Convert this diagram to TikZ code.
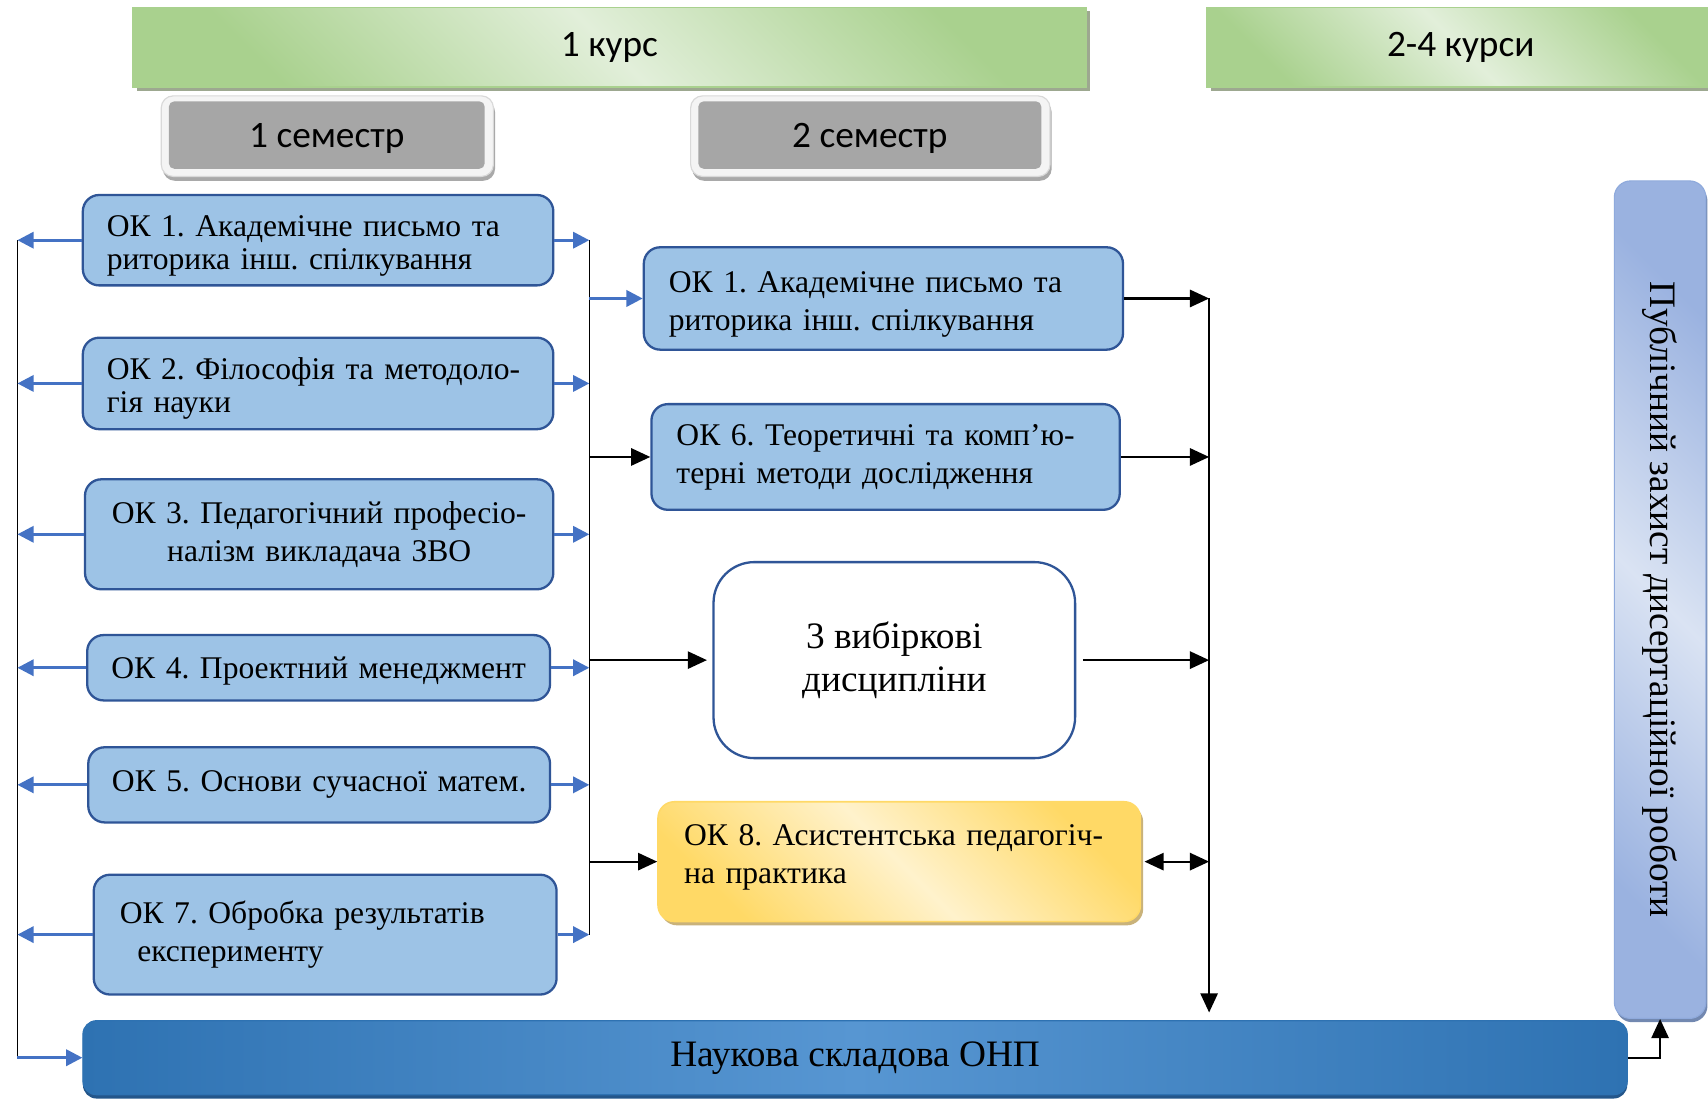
\documentclass[tikz,border=0pt]{standalone}
\usepackage{fontspec}
\setmainfont{Liberation Serif}
\newfontfamily\hdfont{Carlito}
\usetikzlibrary{arrows.meta,shadows}
\definecolor{okfill}{HTML}{9DC3E6}
\definecolor{okdraw}{HTML}{2F5597}
\definecolor{arrblue}{HTML}{4472C4}
\definecolor{gLight}{HTML}{E2EFDA}
\definecolor{gDark}{HTML}{A9D18E}
\definecolor{gShadow}{HTML}{9DA890}
\definecolor{semGray}{HTML}{A6A6A6}
\definecolor{semRim}{HTML}{F4F4F4}
\definecolor{semShadow}{HTML}{A9A9A9}
\definecolor{nBlueD}{HTML}{2E72B2}
\definecolor{nBlueL}{HTML}{5796D2}
\definecolor{nShadow}{HTML}{24568A}
\definecolor{pLight}{HTML}{DAE3F3}
\definecolor{pDark}{HTML}{9AB2E0}
\definecolor{pEdge}{HTML}{8FAADC}
\definecolor{yDark}{HTML}{FFD966}
\definecolor{yLight}{HTML}{FFF2CC}
\definecolor{yShadow}{HTML}{C9B27A}
\tikzset{
  bodytxt/.style={font=\fontsize{16.5}{19.8}\selectfont},
  tighttxt/.style={font=\fontsize{16.5}{17.2}\selectfont},
  okbox/.style={draw=okdraw, line width=1.2pt, fill=okfill, rounded corners=0.3cm, inner sep=0pt, bodytxt},
  greenbar/.style={draw=gDark, line width=0.8pt, inner sep=0pt,
    top color=gDark, bottom color=gDark, middle color=gLight, shading angle=-45,
    drop shadow={shadow xshift=0.07cm, shadow yshift=-0.07cm, fill=gShadow, opacity=1},
    font=\hdfont\fontsize{19.5}{22}\selectfont},
  semouter/.style={draw=black!15, line width=0.6pt, fill=semRim, rounded corners=0.22cm, inner sep=0pt,
    drop shadow={shadow xshift=0.03cm, shadow yshift=-0.08cm, fill=semShadow, opacity=1}},
  seminner/.style={fill=semGray, rounded corners=0.1cm, inner sep=0pt, text depth=0pt,
    font=\hdfont\fontsize{19.5}{22}\selectfont},
  vibbox/.style={draw=okdraw, line width=1.2pt, fill=white, rounded corners=0.75cm, inner sep=0pt,
    font=\fontsize{19.5}{22.8}\selectfont, align=center},
  yelbox/.style={draw=yDark, line width=0.8pt, inner sep=0pt, rounded corners=0.3cm,
    top color=yDark, bottom color=yDark, middle color=yLight, shading angle=-45,
    drop shadow={shadow xshift=0.05cm, shadow yshift=-0.07cm, fill=yShadow, opacity=1}, bodytxt},
  naukbox/.style={draw=nBlueD, line width=0.6pt, inner sep=0pt, rounded corners=0.25cm,
    left color=nBlueD, right color=nBlueD, middle color=nBlueL,
    drop shadow={shadow xshift=0cm, shadow yshift=-0.07cm, fill=nShadow, opacity=1},
    font=\fontsize{19.5}{22}\selectfont},
  pubbox/.style={draw=pEdge, line width=0.6pt, inner sep=0pt, rounded corners=0.3cm,
    top color=pDark, bottom color=pDark, middle color=pLight, shading angle=-45,
    drop shadow={shadow xshift=0.03cm, shadow yshift=-0.07cm, fill=pEdge!80!black, opacity=1}},
  pubtxt/.style={rotate=-90, font=\fontsize{19.5}{22}\selectfont, inner sep=0pt},
  blarrow/.style={draw=arrblue, line width=1.5pt, -{Triangle[length=8.5pt,width=8.5pt]}},
  barrow/.style={draw=black, line width=1.1pt, -{Triangle[length=10pt,width=9pt]}},
  dbarrow/.style={draw=black, line width=1.1pt, {Triangle[length=10pt,width=9pt]}-{Triangle[length=10pt,width=9pt]}},
  bline/.style={draw=black, line width=0.8pt},
}
\begin{document}
\frenchspacing
\begin{tikzpicture}[x=0.02cm, y=-0.02cm]
\useasboundingbox (0,0) rectangle (1568,1008);
\fill[white] (0,0) rectangle (1568,1008);

% headers
\node[greenbar, minimum width=17.5cm, minimum height=1.46cm] (y1) at (559.5,43.5) {1 курс};
\node[greenbar, minimum width=9.32cm, minimum height=1.46cm] (y24) at (1341,43.5) {2-4 курси};
\node[semouter, minimum width=6.1cm, minimum height=1.48cm] (s1o) at (300.5,125) {};
\node[seminner, minimum width=5.8cm, minimum height=1.24cm] (s1) at (300,124) {1 семестр};
\node[semouter, minimum width=6.6cm, minimum height=1.48cm] (s2o) at (799,125) {};
\node[seminner, minimum width=6.3cm, minimum height=1.24cm] (s2) at (798.5,124) {2 семестр};

% semester 1 boxes
\node[okbox, tighttxt, minimum width=8.64cm, minimum height=1.66cm, text width=7.76cm, align=left] (ok1) at (292,220.5)
  {\mbox{\rule{0pt}{17pt}ОК 1. Академічне письмо та}\\\mbox{риторика інш. спілкування}};
\node[okbox, tighttxt, minimum width=8.64cm, minimum height=1.68cm, text width=7.76cm, align=left] (ok2) at (292,352)
  {\mbox{\rule{0pt}{17pt}ОК 2. Філософія та методоло-}\\\mbox{гія науки}};
\node[okbox, minimum width=8.6cm, minimum height=2.02cm, text width=7.8cm, align=center] (ok3) at (293,490.5)
  {\mbox{ОК 3. Педагогічний професіо-}\\\mbox{налізм викладача ЗВО}};
\node[okbox, text depth=0pt, minimum width=8.5cm, minimum height=1.2cm, text width=8cm, align=center] (ok4) at (292.5,613)
  {ОК 4. Проектний менеджмент};
\node[okbox, minimum width=8.48cm, minimum height=1.38cm, text width=8cm, align=center] (ok5) at (293,720.5)
  {ОК 5. Основи сучасної матем.};
\node[okbox, minimum width=8.5cm, minimum height=2.2cm, text width=7.54cm, align=left] (ok7) at (298.5,858)
  {\mbox{ОК 7. Обробка результатів}\\\mbox{\hspace*{0.32cm}експерименту}};

% semester 2 boxes
\node[okbox, minimum width=8.8cm, minimum height=1.88cm, text width=7.88cm, align=left] (ok1b) at (811,274)
  {\mbox{\rule{0pt}{17.5pt}ОК 1. Академічне письмо та}\\\mbox{риторика інш. спілкування}};
\node[okbox, minimum width=8.6cm, minimum height=1.94cm, text width=7.68cm, align=left] (ok6) at (813,419.5)
  {\mbox{ОК 6. Теоретичні та комп’ю-}\\\mbox{терні методи дослідження}};
\node[vibbox, minimum width=6.64cm, minimum height=3.6cm] (vib) at (821,606) {3 вибіркові\\дисципліни};
\node[yelbox, minimum width=8.86cm, minimum height=2.2cm, text width=7.9cm, align=left] (ok8) at (825.5,791)
  {\mbox{ОК 8. Асистентська педагогіч-}\\\mbox{на практика}\\[-12pt]\mbox{}};

% bottom and right boxes
\node[naukbox, minimum width=28.36cm, minimum height=1.36cm] (nauk) at (785,971) {Наукова складова ОНП};
\node[pubbox, minimum width=1.68cm, minimum height=15.38cm] (pub) at (1524,550.5) {};
\node[pubtxt] (pubt) at (pub.center) {Публічний захист дисертаційної роботи};

% bus coordinates
\coordinate (lbus) at (16,0);
\coordinate (mbus) at (541,0);
\coordinate (rbus) at (1110,0);

% left bus and arrows
\draw[bline] (ok1.west -| lbus) -- (nauk.west -| lbus);
\foreach \b in {ok1,ok2,ok3,ok4,ok5,ok7}{
  \draw[blarrow] (\b.west) -- (\b.west -| lbus);
  \draw[blarrow] (\b.east) -- (\b.east -| mbus);
}
\draw[blarrow] (nauk.west -| lbus) -- (nauk.west);

% middle bus
\draw[bline] (ok1.east -| mbus) -- (ok7.east -| mbus);
\draw[blarrow] (ok1b.west -| mbus) -- (ok1b.west);
\draw[barrow] (ok6.west -| mbus) -- (ok6.west);
\draw[barrow, shorten >=0.1cm] (vib.west -| mbus) -- (vib.west);
\draw[barrow] (ok8.west -| mbus) -- (ok8.west);

% right bus
\draw[barrow] (ok1b.east) -- (ok1b.east -| rbus);
\draw[barrow] (ok6.east) -- (ok6.east -| rbus);
\draw[barrow, shorten <=0.12cm] (vib.east) -- (vib.east -| rbus);
\draw[dbarrow, shorten <=0.06cm] (ok8.east) -- (ok8.east -| rbus);
\draw[barrow, shorten >=0.14cm] (ok1b.east -| rbus) -- (nauk.north -| rbus);

% to public defence
\draw[barrow] (nauk.east) -| (pub.south);
\end{tikzpicture}
\end{document}
